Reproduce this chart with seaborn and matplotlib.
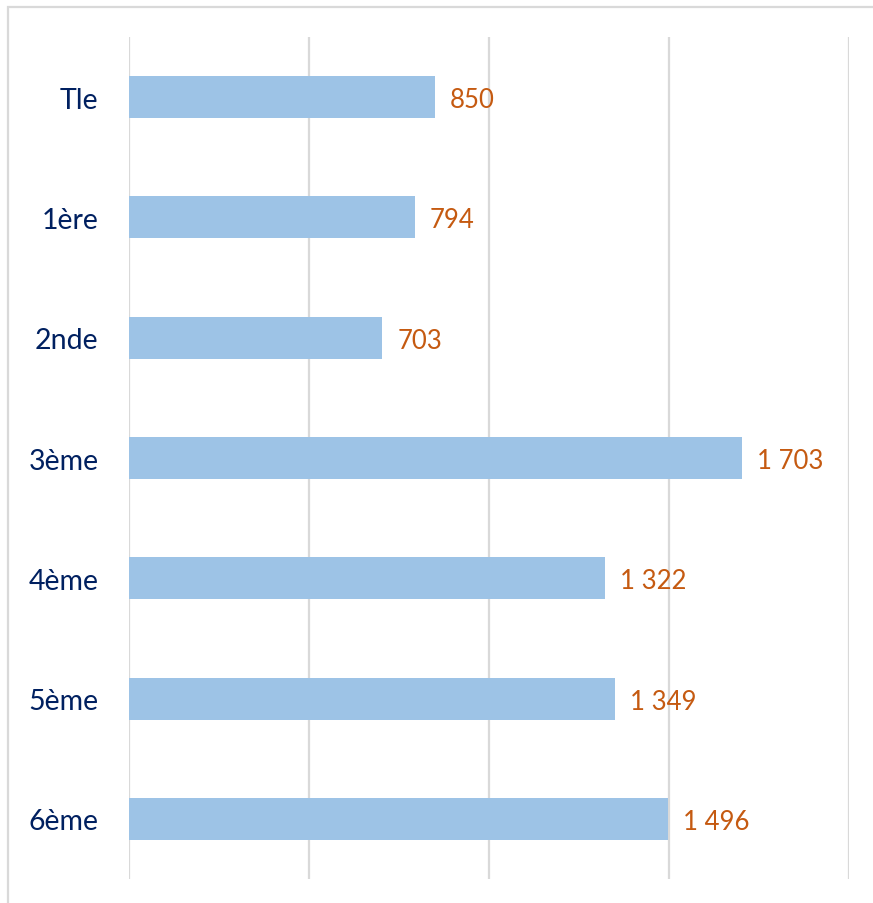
import matplotlib
matplotlib.use("Agg")
import matplotlib.pyplot as plt
from matplotlib.patches import Rectangle
import seaborn as sns
import pandas as pd

# Effectifs par niveau
niveaux = ["Tle", "1ère", "2nde", "3ème", "4ème", "5ème", "6ème"]
effectifs = [850, 794, 703, 1703, 1322, 1349, 1496]
graduations = [0, 500, 1000, 1500, 2000]

sns.set_theme(style="white")
plt.rcParams["font.family"] = ["Lato", "DejaVu Sans"]

df = pd.DataFrame({"niveau": niveaux, "effectif": effectifs})

W, H, DPI = 873, 904, 100
fig = plt.figure(figsize=(W / DPI, H / DPI), dpi=DPI)
ax = fig.add_axes([129 / W, 24 / H, (849 - 129) / W, (880 - 38) / H])

sns.barplot(data=df, y="niveau", x="effectif", order=niveaux, orient="h",
            color="#9DC3E6", saturation=1, width=0.35, linewidth=0,
            ax=ax, zorder=3)

ax.set_xlim(graduations[0], graduations[-1])
ax.set_ylim(len(niveaux) - 0.5, -0.5)
ax.set_xticks(graduations)
ax.set_xticklabels([])
ax.grid(axis="x", color="#D9D9D9", linewidth=1.6, zorder=0)
ax.grid(axis="y", visible=False)
for s in ax.spines.values():
    s.set_visible(False)
ax.set_xlabel("")
ax.set_ylabel("")
ax.tick_params(axis="y", length=0, pad=22, labelsize=20.5, labelcolor="#002060")
ax.tick_params(axis="x", length=0)

for i, v in enumerate(effectifs):
    txt = f"{v:,}".replace(",", " ")
    ax.text(v + 42, i, txt, va="center_baseline", ha="left", fontsize=18.5,
            color="#C55A11")

fig.patches.append(Rectangle((8 / W, -0.05), 1.2, 1 - 8 / H + 0.05,
                             transform=fig.transFigure, fill=False,
                             edgecolor="#D9D9D9", linewidth=1.6))

fig.savefig("out.png", dpi=DPI, facecolor="white")
